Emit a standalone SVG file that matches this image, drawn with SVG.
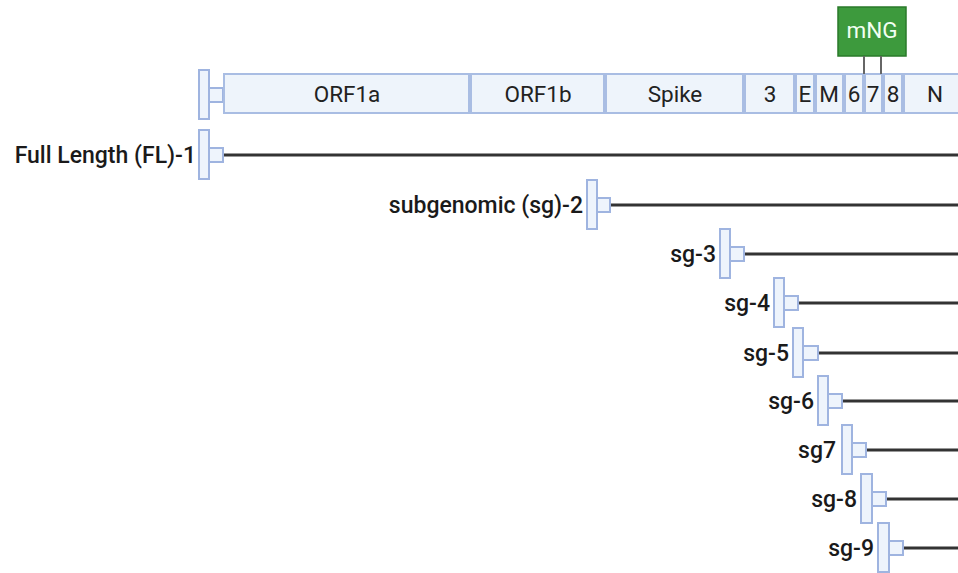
<svg xmlns="http://www.w3.org/2000/svg" width="958" height="573" viewBox="0 0 958 573">
  <style>
    .seg { fill: #eef4fb; stroke: #a9bde3; stroke-width: 2; }
    .seg-t { font-family: Roboto, "Liberation Sans", sans-serif; font-size: 22.5px; fill: #222; text-anchor: middle; }
    .prom { fill: #eef4fc; stroke: #9fb4e0; stroke-width: 2; }
    .tx { stroke: #333; stroke-width: 3; fill: none; }
    .lbl { font-family: Roboto, "Liberation Sans", sans-serif; font-size: 23px; font-weight: 500; fill: #1a1a1a; text-anchor: end; }
    .tag { fill: #3d9a3d; stroke: #2a7a2a; stroke-width: 1.5; }
    .tag-t { font-family: Roboto, "Liberation Sans", sans-serif; font-size: 22.5px; fill: #f2fff2; text-anchor: middle; }
    .link { stroke: #666; stroke-width: 2; }
  </style>
  <rect width="958" height="573" fill="#ffffff"/>

  <!-- genome map -->
  <g id="genome">
    <rect class="prom" x="199" y="70" width="10" height="49"/>
    <rect class="prom" x="209" y="88" width="14" height="14"/>
    <rect class="seg" x="224" y="74" width="245" height="39"/>
    <text class="seg-t" x="347" y="102">ORF1a</text>
    <rect class="seg" x="471" y="74" width="133" height="39"/>
    <text class="seg-t" x="538" y="102">ORF1b</text>
    <rect class="seg" x="606" y="74" width="137" height="39"/>
    <text class="seg-t" x="675" y="102">Spike</text>
    <rect class="seg" x="745" y="74" width="49" height="39"/>
    <text class="seg-t" x="770" y="102">3</text>
    <rect class="seg" x="796" y="74" width="18" height="39"/>
    <text class="seg-t" x="805" y="102">E</text>
    <rect class="seg" x="816" y="74" width="27" height="39"/>
    <text class="seg-t" x="829" y="102">M</text>
    <rect class="seg" x="845" y="74" width="18" height="39"/>
    <text class="seg-t" x="854" y="102">6</text>
    <rect class="seg" x="865" y="74" width="17" height="39"/>
    <text class="seg-t" x="873" y="102">7</text>
    <rect class="seg" x="884" y="74" width="18" height="39"/>
    <text class="seg-t" x="893" y="102">8</text>
    <rect class="seg" x="904" y="74" width="60" height="39"/>
    <text class="seg-t" x="935" y="102">N</text>
  </g>

  <!-- mNG insertion -->
  <g id="mNG">
    <rect class="tag" x="838" y="7" width="68" height="49"/>
    <text class="tag-t" x="872" y="38">mNG</text>
  </g>

  <!-- connectors -->
  <g id="connectors">
    <line class="link" x1="864" y1="56" x2="864" y2="74"/>
    <line class="link" x1="881" y1="56" x2="881" y2="74"/>
    <line class="tx" x1="223" y1="155" x2="958" y2="155"/>
    <line class="tx" x1="610" y1="205" x2="958" y2="205"/>
    <line class="tx" x1="744" y1="254" x2="958" y2="254"/>
    <line class="tx" x1="798" y1="303" x2="958" y2="303"/>
    <line class="tx" x1="818" y1="353" x2="958" y2="353"/>
    <line class="tx" x1="842" y1="401" x2="958" y2="401"/>
    <line class="tx" x1="866" y1="450" x2="958" y2="450"/>
    <line class="tx" x1="886" y1="499" x2="958" y2="499"/>
    <line class="tx" x1="903" y1="548" x2="958" y2="548"/>
  </g>

  <!-- transcripts -->
  <g id="fl-1">
    <rect class="prom" x="199" y="130" width="10" height="49"/>
    <rect class="prom" x="209" y="148" width="14" height="14"/>
    <text class="lbl" x="196" y="163">Full Length (FL)-1</text>
  </g>
  <g id="sg-2">
    <rect class="prom" x="587" y="180" width="10" height="49"/>
    <rect class="prom" x="597" y="198" width="13" height="14"/>
    <text class="lbl" x="583" y="213">subgenomic (sg)-2</text>
  </g>
  <g id="sg-3">
    <rect class="prom" x="720" y="229" width="10" height="49"/>
    <rect class="prom" x="730" y="247" width="14" height="14"/>
    <text class="lbl" x="716" y="262">sg-3</text>
  </g>
  <g id="sg-4">
    <rect class="prom" x="774" y="278" width="10" height="49"/>
    <rect class="prom" x="784" y="296" width="14" height="14"/>
    <text class="lbl" x="770" y="311">sg-4</text>
  </g>
  <g id="sg-5">
    <rect class="prom" x="793" y="328" width="10" height="49"/>
    <rect class="prom" x="803" y="346" width="15" height="14"/>
    <text class="lbl" x="789" y="361">sg-5</text>
  </g>
  <g id="sg-6">
    <rect class="prom" x="818" y="376" width="10" height="49"/>
    <rect class="prom" x="828" y="394" width="14" height="14"/>
    <text class="lbl" x="814" y="409">sg-6</text>
  </g>
  <g id="sg7">
    <rect class="prom" x="842" y="425" width="10" height="49"/>
    <rect class="prom" x="852" y="443" width="14" height="14"/>
    <text class="lbl" x="836" y="458">sg7</text>
  </g>
  <g id="sg-8">
    <rect class="prom" x="861" y="474" width="11" height="49"/>
    <rect class="prom" x="872" y="492" width="14" height="14"/>
    <text class="lbl" x="857" y="507">sg-8</text>
  </g>
  <g id="sg-9">
    <rect class="prom" x="878" y="523" width="11" height="49"/>
    <rect class="prom" x="889" y="541" width="14" height="14"/>
    <text class="lbl" x="874" y="556">sg-9</text>
  </g>
</svg>
